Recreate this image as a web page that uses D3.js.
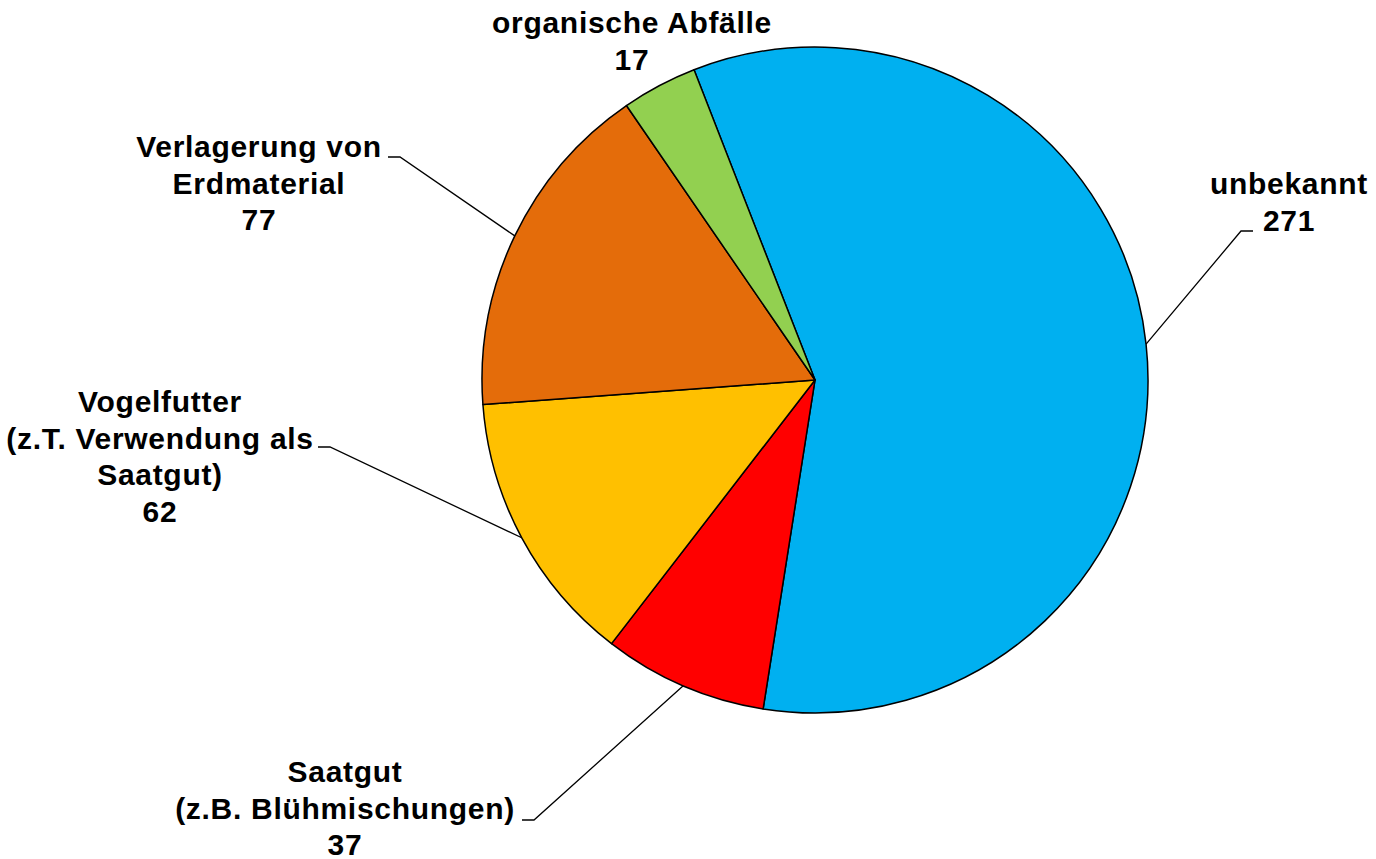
<!DOCTYPE html>
<html>
<head>
<meta charset="utf-8">
<script src="https://cdn.jsdelivr.net/npm/d3@7"></script>
<style>
  html, body { margin: 0; padding: 0; background: #fff; }
  svg text { font-family: "Liberation Sans", Arial, sans-serif; font-weight: bold; fill: #000; }
</style>
</head>
<body>
<svg id="chart" width="1376" height="859"></svg>
<script>
// data, in drawing order (clockwise)
var categories = ["unbekannt", "Saatgut (z.B. Blühmischungen)", "Vogelfutter (z.T. Verwendung als Saatgut)", "Verlagerung von Erdmaterial", "organische Abfälle"];
var values = [271, 37, 62, 77, 17];
var labelLines = [
  ["unbekannt"],
  ["Saatgut", "(z.B. Blühmischungen)"],
  ["Vogelfutter", "(z.T. Verwendung als", "Saatgut)"],
  ["Verlagerung von", "Erdmaterial"],
  ["organische Abfälle"]
];
var colors = ["#00B0F0", "#FF0000", "#FFC000", "#E46C0A", "#92D050"];

var svg = d3.select("svg"),
    cx = 815,
    cy = 380,
    radius = 333,
    lineH = 36.5;

// label placement relative to the pie centre (text centre x, first baseline y,
// elbow of the leader line, side of the short horizontal piece)
var labelLayout = [
  { x: 474, y: -186, ex: 426, ey: -149, side: 1 },
  { x: -470, y: 402, ex: -281, ey: 440, side: -1 },
  { x: -655, y: 32, ex: -485, ey: 67, side: -1 },
  { x: -556, y: -223, ex: -415, ey: -223, side: -1 },
  { x: -183, y: -347, ex: null }
];

var pie = d3.pie()
  .sort(null)
  .startAngle(-21.3 * Math.PI / 180)
  .endAngle((360 - 21.3) * Math.PI / 180);

var arc = d3.arc()
  .innerRadius(0)
  .outerRadius(radius);

var arcs = pie(values);

var g = svg.append("g")
  .attr("transform", "translate(" + cx + "," + cy + ")");

g.selectAll("path.slice")
  .data(arcs)
  .enter().append("path")
  .attr("class", "slice")
  .attr("d", arc)
  .style("fill", function(d, i) { return colors[i]; })
  .style("stroke", "#000")
  .style("stroke-width", 1.5)
  .style("stroke-linejoin", "round");

// leader lines start on the rim at the slice's middle angle
g.selectAll("path.leader")
  .data(arcs.filter(function(d, i) { return labelLayout[i].ex !== null; }))
  .enter().append("path")
  .attr("class", "leader")
  .attr("d", function(d) {
    var L = labelLayout[d.index];
    var a = (d.startAngle + d.endAngle) / 2;
    var x0 = Math.sin(a) * radius, y0 = -Math.cos(a) * radius;
    return "M" + x0 + "," + y0 + "L" + L.ex + "," + L.ey + "L" + (L.ex + L.side * 12) + "," + L.ey;
  })
  .style("fill", "none")
  .style("stroke", "#000")
  .style("stroke-width", 1.3);

var labels = g.selectAll("text.label")
  .data(arcs)
  .enter().append("text")
  .attr("class", "label")
  .attr("text-anchor", "middle")
  .style("font-size", "30px")
  .style("letter-spacing", "0.7px")
  .attr("transform", function(d, i) {
    return "translate(" + labelLayout[i].x + "," + labelLayout[i].y + ")";
  });

labels.each(function(d, i) {
  var t = d3.select(this);
  var lines = labelLines[i].concat([String(values[i])]);
  lines.forEach(function(s, k) {
    t.append("tspan").attr("x", 0).attr("y", k * lineH).text(s);
  });
});
</script>
</body>
</html>
